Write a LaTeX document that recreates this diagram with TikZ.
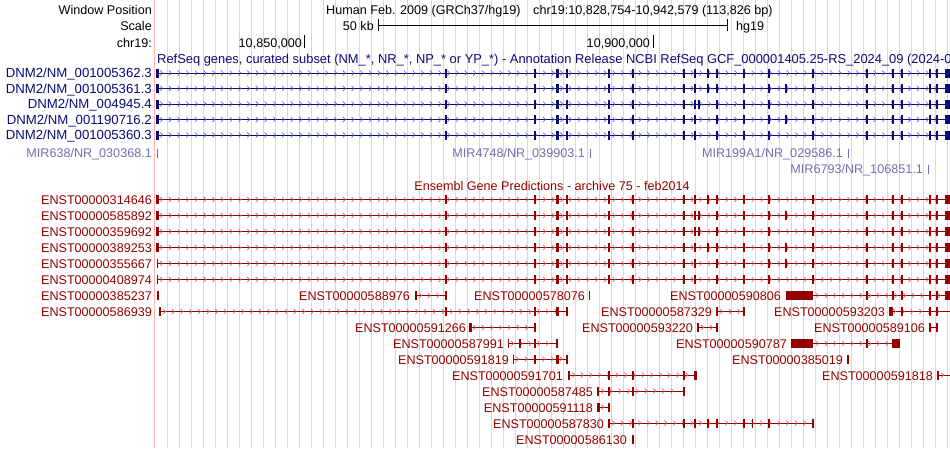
\documentclass[tikz,border=0pt]{standalone}
\usepackage{fontspec}
\setmainfont{Liberation Sans}
\usetikzlibrary{decorations.markings}
\definecolor{nv}{HTML}{0C0C78}
\definecolor{nvc}{HTML}{5A5AB0}
\definecolor{mir}{HTML}{7070B0}
\definecolor{dr}{HTML}{960000}
\definecolor{drc}{HTML}{C06060}
\definecolor{grid}{HTML}{D4D4F6}
\definecolor{pink}{HTML}{FFB0B0}
\newcommand\trk[5]{\draw[#4,line width=1pt,postaction={decorate,decoration={markings,mark=between positions 5pt and -3pt step 8.7pt with {\draw[#5,line width=0.6pt] (-1.8pt,2.5pt)--(0.6pt,0pt)--(-1.8pt,-2.5pt);}}}] (#2,#1)--(#3,#1);}
\newcommand\exo[3]{\foreach \xx in {#2}{\draw[#3,line width=1.1pt] (\xx,#1-4.5)--(\xx,#1+4.5);}}
\newcommand\exth[3]{\foreach \xx in {#2}{\draw[#3,line width=2.4pt] (\xx,#1-4.5)--(\xx,#1+4.5);}}
\newcommand\blk[4]{\fill[#4] (#2,#1-4.5) rectangle (#3,#1+4.5);}
\begin{document}
\begin{tikzpicture}[x=1pt,y=-1pt,font=\fontsize{12.6}{14}\selectfont,
  lab/.style={anchor=base east,inner sep=0pt},
  labw/.style={anchor=base west,inner sep=0pt}]
\useasboundingbox (0,0) rectangle (950,448);
\clip (0,0) rectangle (950,448);
\fill[white] (0,0) rectangle (950,448);
% grid
\foreach \gx in {167.3,179.3,...,950}{\draw[grid,line width=1pt] (\gx,0)--(\gx,448);}
\draw[pink,line width=1pt] (154.3,0)--(154.3,448);
% header
\node[lab] (wp) at (152,14) {Window Position};
\node[labw] (hum) at (326,14) {Human Feb. 2009 (GRCh37/hg19)\quad chr19:10,828,754-10,942,579 (113,826 bp)};
\node[lab] (sc) at (152,30) {Scale};
\node[lab] (kb) at (374,30) {50 kb};
\draw[black,line width=1pt] (378,19)--(378,31) (378,25)--(727,25) (727,19)--(727,31);
\node[labw] (hg) at (736,30) {hg19};
\node[lab] (chr) at (152,47) {chr19:};
\node[lab] (p1) at (302,47) {10,850,000};
\draw[line width=1pt] (304.3,35)--(304.3,48);
\node[lab] (p2) at (650,47) {10,900,000};
\draw[line width=1pt] (653,35)--(653,48);
% RefSeq
\node[labw,text=nv,font=\fontsize{12.9}{14}\selectfont] (rs) at (157,63) {RefSeq genes, curated subset (NM\_*, NR\_*, NP\_* or YP\_*) - Annotation Release NCBI RefSeq GCF\_000001405.25-RS\_2024\_09 (2024-09-27)};
\foreach \yy/\nm in {73/{DNM2/NM\_001005362.3},88.5/{DNM2/NM\_001005361.3},104/{DNM2/NM\_004945.4},119.5/{DNM2/NM\_001190716.2},135/{DNM2/NM\_001005360.3}}{
  \node[lab,text=nv,font=\fontsize{13.2}{14}\selectfont] at (152,\yy+4.6) {\nm};
  \trk{\yy}{157}{946}{nv}{nvc}
  \exo{\yy}{446,535,567,609,633,684,695,717,744,769,813,867,893,902,937}{nv}
  \exth{\yy}{157.5,557.5,930}{nv}
  \blk{\yy}{944.5}{950}{nv}
}
\exo{73}{708}{nv}\exo{88.5}{708,786}{nv}\exo{104}{699}{nv}\exo{119.5}{786}{nv}
\foreach \yy/\nm/\xe in {153/{MIR638/NR\_030368.1}/152,153/{MIR4748/NR\_039903.1}/585,153/{MIR199A1/NR\_029586.1}/843,169/{MIR6793/NR\_106851.1}/923}{
  \node[lab,text=mir] at (\xe,\yy+4.6) {\nm};
  \draw[mir,line width=1pt] (\xe+5.5,\yy-4.5)--(\xe+5.5,\yy+4.5);
}
% Ensembl
\node[anchor=base,inner sep=0pt,text=dr] (en) at (552,190) {Ensembl Gene Predictions - archive 75 - feb2014};
\foreach \yy/\nm in {199.5/ENST00000314646,215.5/ENST00000585892,231.5/ENST00000359692,247.5/ENST00000389253,263.5/ENST00000355667,279.5/ENST00000408974}{
  \node[lab,text=dr] at (152,\yy+4.6) {\nm};
  \trk{\yy}{157}{946}{dr}{drc}
  \exo{\yy}{157.5,446,535,567,609,633,684,695,717,744,769,813,867,893,902,937}{dr}
  \exth{\yy}{557.5,930}{dr}
  \blk{\yy}{945}{950}{dr}
}
\exth{199.5}{157.5}{dr}\exth{215.5}{157.5}{dr}\exth{231.5}{157.5}{dr}\exth{247.5}{157.5}{dr}
\exo{199.5}{708}{dr}\exo{215.5}{699,786}{dr}\exo{231.5}{699}{dr}\exo{247.5}{708,786}{dr}\exo{263.5}{786}{dr}
% row 7
\node[lab,text=dr] at (152,300) {ENST00000385237};
\exo{295.5}{158}{dr}
\node[lab,text=dr] at (410,300) {ENST00000588976};
\trk{295.5}{416}{446}{dr}{drc}\exth{295.5}{416}{dr}\exo{295.5}{446}{dr}
\node[lab,text=dr] at (585,300) {ENST00000578076};
\exo{295.5}{589.5}{dr}
\node[lab,text=dr] at (781,300) {ENST00000590806};
\trk{295.5}{813}{950}{dr}{drc}\blk{295.5}{786}{813}{dr}
\exo{295.5}{867,893,902,937}{dr}\exth{295.5}{930}{dr}\blk{295.5}{945}{950}{dr}
% row 8
\node[lab,text=dr] at (152,316) {ENST00000586939};
\trk{311.5}{160}{567}{dr}{drc}\exo{311.5}{160,446,535,567}{dr}\exth{311.5}{557.5}{dr}
\node[lab,text=dr] at (712,316) {ENST00000587329};
\trk{311.5}{717}{744}{dr}{drc}\exo{311.5}{717,744}{dr}
\node[lab,text=dr] at (885,316) {ENST00000593203};
\trk{311.5}{890}{950}{dr}{drc}\blk{311.5}{889}{893}{dr}\exo{311.5}{902,937}{dr}\exth{311.5}{930}{dr}
% row 9
\node[lab,text=dr] at (466,332) {ENST00000591266};
\trk{327.5}{470}{535}{dr}{drc}\exth{327.5}{470.5}{dr}\exo{327.5}{535}{dr}
\node[lab,text=dr] at (693,332) {ENST00000593220};
\trk{327.5}{698}{717}{dr}{drc}\exth{327.5}{698}{dr}\exo{327.5}{717}{dr}
\node[lab,text=dr] at (925,332) {ENST00000589106};
\trk{327.5}{930}{937}{dr}{drc}\exo{327.5}{930,937}{dr}
% row 10
\node[lab,text=dr] at (504,348) {ENST00000587991};
\trk{343.5}{508}{557}{dr}{drc}\exo{343.5}{508.5,520,535,557}{dr}
\node[lab,text=dr] at (787,348) {ENST00000590787};
\trk{343.5}{813}{893}{dr}{drc}\blk{343.5}{791}{813}{dr}\exo{343.5}{867}{dr}\blk{343.5}{892}{900}{dr}
% row 11
\node[lab,text=dr] at (509,364) {ENST00000591819};
\trk{359}{513}{567}{dr}{drc}\exo{359}{513.5,535,567}{dr}\exth{359}{557.5}{dr}
\node[lab,text=dr] at (843,364) {ENST00000385019};
\exo{359}{848}{dr}
% row 12
\node[lab,text=dr] at (563,380) {ENST00000591701};
\trk{375}{569}{695}{dr}{drc}\exo{375}{569,609,633,684}{dr}\blk{375}{694}{697}{dr}
\node[lab,text=dr] at (933,380) {ENST00000591818};
\trk{375}{938}{950}{dr}{drc}\exo{375}{938}{dr}
% row 13
\node[lab,text=dr] at (593,396) {ENST00000587485};
\trk{391}{598}{684}{dr}{drc}\exo{391}{598,609,633,684}{dr}
% row 14
\node[lab,text=dr] at (593,412) {ENST00000591118};
\trk{407}{598}{609}{dr}{drc}\exth{407}{598.5}{dr}\exo{407}{609}{dr}
% row 15
\node[lab,text=dr] at (604,428) {ENST00000587830};
\trk{423}{609}{813}{dr}{drc}\exo{423}{609,633,684,695,708,717,744,752.7,769,813}{dr}
% row 16
\node[lab,text=dr] at (627,444) {ENST00000586130};
\exth{439}{633}{dr}
\end{tikzpicture}
\end{document}
